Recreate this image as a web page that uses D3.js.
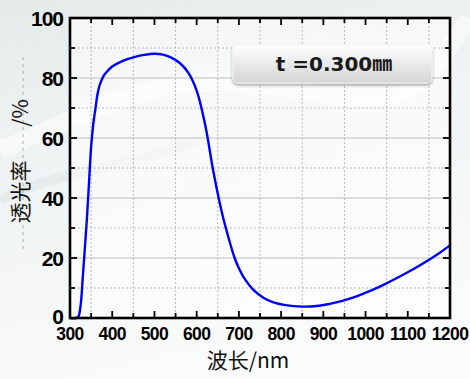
<!DOCTYPE html>
<html>
<head>
<meta charset="utf-8">
<script src="https://cdn.jsdelivr.net/npm/d3@7"></script>
<style>
  html, body { margin: 0; padding: 0; }
  body { width: 470px; height: 379px; overflow: hidden; }
</style>
</head>
<body>
<div class="chart"></div>
<script>
// transmittance curve
let wavelength = [300, 315, 320, 325, 330, 335, 340, 345, 350, 355, 360, 365, 370, 380, 390, 400,
  425, 450, 475, 500, 520, 540, 560, 580, 600, 620, 640, 660, 680, 690, 700, 710, 735, 760, 780,
  810, 850, 890, 915, 945, 970, 995, 1040, 1090, 1135, 1175, 1200];
let transmittance = [0, 0, 0.5, 4, 13, 23, 33, 45, 57, 64.5, 69.5, 74.5, 77.5, 80.8, 82.5, 83.8,
  85.7, 86.9, 87.7, 88.1, 87.8, 86.8, 85, 81.8, 75.8, 64.5, 48.5, 35, 24.5, 20, 16.6, 13.9, 9.3, 6.6, 5.3,
  4.3, 3.8, 4.1, 4.7, 5.7, 6.8, 8.1, 10.9, 14.5, 18.1, 21.7, 24.2];

let xTicks = [300, 400, 500, 600, 700, 800, 900, 1000, 1100, 1200];
let yTicks = [0, 20, 40, 60, 80, 100];
let xLabel = "波长/nm";
let yLabel = "透光率";
let yUnit = "/%";
let boxText = "t =0.300㎜";

let width = 470, height = 379;
let margin = {top: 18, right: 20, bottom: 61, left: 70};
let w = width - margin.left - margin.right;
let h = height - margin.top - margin.bottom;

let svg = d3.select(".chart").append("svg")
  .attr("width", width)
  .attr("height", height);

let defs = svg.append("defs");

let bg = defs.append("linearGradient").attr("id", "bg")
  .attr("x1", 0).attr("y1", 0).attr("x2", 0.3).attr("y2", 1);
bg.append("stop").attr("offset", "0%").attr("stop-color", "#e4eaea");
bg.append("stop").attr("offset", "35%").attr("stop-color", "#eef2f2");
bg.append("stop").attr("offset", "100%").attr("stop-color", "#fafbfb");

let boxGrad = defs.append("linearGradient").attr("id", "boxgrad")
  .attr("x1", 0).attr("y1", 0).attr("x2", 0).attr("y2", 1);
boxGrad.append("stop").attr("offset", "0%").attr("stop-color", "#ffffff");
boxGrad.append("stop").attr("offset", "100%").attr("stop-color", "#d4d4d4");

let shadow = defs.append("filter").attr("id", "shadow")
  .attr("x", "-10%").attr("y", "-20%").attr("width", "130%").attr("height", "160%");
shadow.append("feDropShadow").attr("dx", 0).attr("dy", 2).attr("stdDeviation", 1.5)
  .attr("flood-color", "#000").attr("flood-opacity", 0.35);

svg.append("rect").attr("width", width).attr("height", height).attr("fill", "url(#bg)");

// faint swirls in the backdrop
svg.append("path")
  .attr("d", "M0,150 C80,120 160,60 300,90 S430,60 470,20")
  .attr("fill", "none").attr("stroke", "#ffffff").attr("stroke-width", 18).attr("opacity", 0.5);
svg.append("path")
  .attr("d", "M0,200 C60,170 120,170 200,140")
  .attr("fill", "none").attr("stroke", "#d8e0e0").attr("stroke-width", 10).attr("opacity", 0.4);

let g = svg.append("g")
  .attr("transform", "translate(" + margin.left + "," + margin.top + ")");

let x = d3.scaleLinear().domain([300, 1200]).range([0, w]);
let y = d3.scaleLinear().domain([0, 100]).range([h, 0]);

g.append("rect").attr("width", w).attr("height", h).attr("fill", "#ffffff").attr("opacity", 0.55);

// grid: dotted at the half steps, solid at the labelled y values
g.append("g")
  .selectAll("line")
  .data(d3.range(350, 1200, 100))
  .enter().append("line")
  .attr("x1", d => x(d)).attr("x2", d => x(d))
  .attr("y1", 0).attr("y2", h)
  .attr("stroke", "#aaa").attr("stroke-width", 0.8).attr("stroke-dasharray", "2,2");

g.append("g")
  .selectAll("line")
  .data(d3.range(10, 100, 20))
  .enter().append("line")
  .attr("x1", 0).attr("x2", w)
  .attr("y1", d => y(d)).attr("y2", d => y(d))
  .attr("stroke", "#aaa").attr("stroke-width", 0.8).attr("stroke-dasharray", "2,2");

g.append("g")
  .selectAll("line")
  .data(yTicks.slice(1, -1))
  .enter().append("line")
  .attr("x1", 0).attr("x2", w)
  .attr("y1", d => y(d)).attr("y2", d => y(d))
  .attr("stroke", "#bdbdbd").attr("stroke-width", 1);

// label box
let box = g.append("g").attr("transform", "translate(" + (233 - margin.left) + "," + (45 - margin.top) + ")");
box.append("rect")
  .attr("width", 199).attr("height", 38).attr("rx", 5).attr("ry", 5)
  .attr("fill", "url(#boxgrad)").attr("stroke", "#f4f4f4").attr("stroke-width", 1)
  .attr("filter", "url(#shadow)");
box.append("text")
  .attr("x", 101).attr("y", 26)
  .attr("text-anchor", "middle")
  .style("font-family", "'DejaVu Sans', 'Noto Sans CJK SC', sans-serif")
  .style("font-weight", "bold")
  .style("font-size", "20px")
  .attr("fill", "#1a1a1a")
  .text(boxText);

// curve
let line = d3.line()
  .x((d, i) => x(wavelength[i]))
  .y(d => y(d))
  .curve(d3.curveCatmullRom.alpha(0.5));

g.append("path")
  .datum(transmittance)
  .attr("d", line)
  .attr("fill", "none")
  .attr("stroke", "#0000ff")
  .attr("stroke-width", 2.4);

// axes, ticks inward on all four sides
let xAll = d3.range(300, 1201, 50);
let yAll = d3.range(0, 101, 10);

let tickG = g.append("g").attr("stroke", "#000").attr("stroke-width", 1.8);
tickG.selectAll(".xb").data(xAll).enter().append("line")
  .attr("x1", d => x(d)).attr("x2", d => x(d))
  .attr("y1", h).attr("y2", d => h - (d % 100 == 0 ? 7 : 5));
tickG.selectAll(".xt").data(xAll).enter().append("line")
  .attr("x1", d => x(d)).attr("x2", d => x(d))
  .attr("y1", 0).attr("y2", d => (d % 100 == 0 ? 7 : 5));
tickG.selectAll(".yl").data(yAll).enter().append("line")
  .attr("y1", d => y(d)).attr("y2", d => y(d))
  .attr("x1", 0).attr("x2", d => (d % 20 == 0 ? 7 : 5));
tickG.selectAll(".yr").data(yAll).enter().append("line")
  .attr("y1", d => y(d)).attr("y2", d => y(d))
  .attr("x1", w).attr("x2", d => w - (d % 20 == 0 ? 7 : 5));

g.append("rect")
  .attr("width", w).attr("height", h)
  .attr("fill", "none").attr("stroke", "#000").attr("stroke-width", 2.6);

g.append("g")
  .selectAll("text")
  .data(xTicks)
  .enter().append("text")
  .attr("x", d => x(d))
  .attr("y", h + 22)
  .attr("text-anchor", "middle")
  .style("font-family", "'Liberation Sans', Arial, sans-serif")
  .style("font-weight", "bold")
  .style("font-size", "17.5px")
  .style("letter-spacing", "-0.6px")
  .text(d => d);

g.append("g")
  .selectAll("text")
  .data(yTicks)
  .enter().append("text")
  .attr("x", -7)
  .attr("y", d => y(d))
  .attr("dy", d => d == 0 ? "0.3em" : "0.36em")
  .attr("text-anchor", "end")
  .style("font-family", "'Liberation Sans', Arial, sans-serif")
  .style("font-weight", "bold")
  .style("font-size", "21px")
  .style("letter-spacing", "-1px")
  .text(d => d);

// axis titles
svg.append("text")
  .attr("x", 248).attr("y", 368)
  .attr("text-anchor", "middle")
  .style("font-family", "'Noto Sans CJK SC', sans-serif")
  .style("font-size", "21px")
  .attr("fill", "#111")
  .text(xLabel);

svg.append("line")
  .attr("x1", 23).attr("x2", 23).attr("y1", 57).attr("y2", 250)
  .attr("stroke", "#999").attr("stroke-width", 0.8).attr("stroke-dasharray", "3,4");

svg.append("text")
  .attr("transform", "translate(28,192) rotate(-90)")
  .attr("text-anchor", "middle")
  .style("font-family", "'Noto Sans CJK SC', sans-serif")
  .style("font-size", "21px")
  .attr("fill", "#111")
  .text(yLabel);

svg.append("text")
  .attr("transform", "translate(28,113) rotate(-90)")
  .attr("text-anchor", "middle")
  .style("font-family", "'Noto Sans CJK SC', sans-serif")
  .style("font-size", "21px")
  .attr("fill", "#111")
  .text(yUnit);
</script>
</body>
</html>
